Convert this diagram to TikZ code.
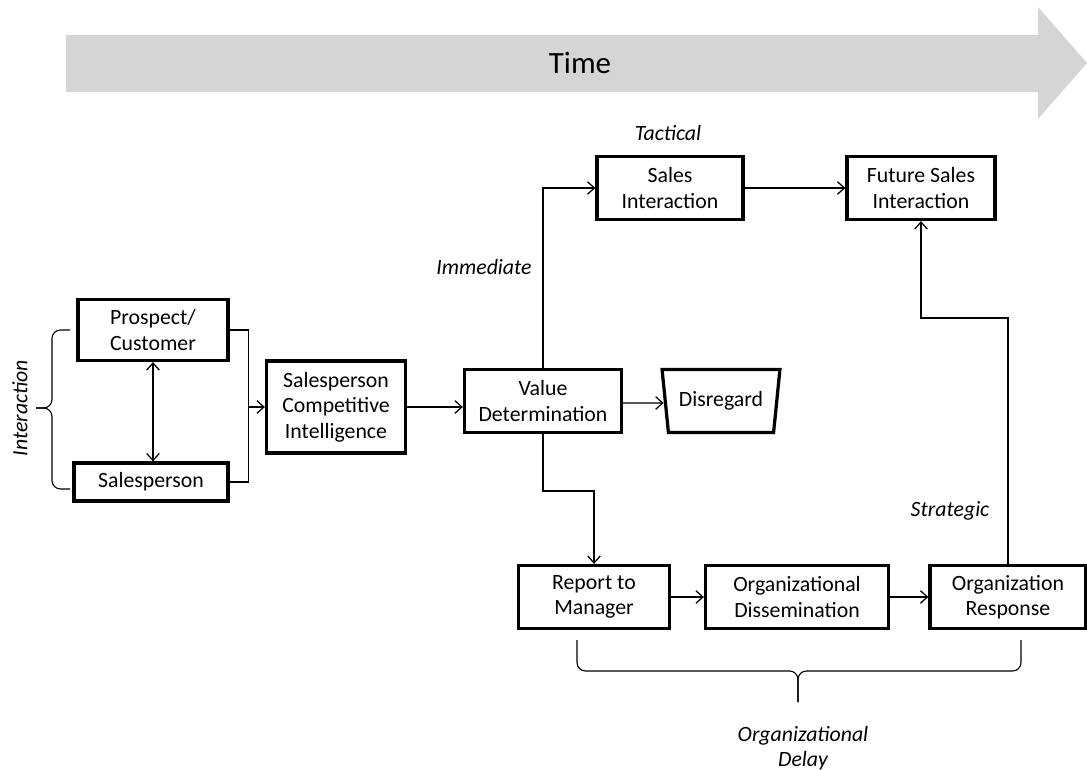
\documentclass[tikz,border=0pt]{standalone}
\usepackage{fontspec}
\setmainfont{Carlito}
\usepackage{xcolor}
\definecolor{timegrey}{HTML}{D4D5D7}
\usetikzlibrary{shapes.geometric, arrows.meta, positioning, calc}

\begin{document}
\begin{tikzpicture}[
        x=0.025cm, y=-0.025cm,
        font=\fontsize{15.5}{18}\selectfont,
        block/.style={rectangle, draw=black, line width=2.3pt, fill=white, align=center, minimum height=1.575cm, inner sep=2pt},
        line/.style={draw, line width=0.9pt, -{Straight Barb[length=5pt, width=9pt]}},
        brace/.style={draw, line width=0.8pt, rounded corners=6pt},
        note/.style={font=\fontsize{15.5}{18}\selectfont\itshape, align=center}
    ]
        \useasboundingbox (0,0) rectangle (1087,770);

        % Time arrow
        \fill[timegrey] (66,35) -- (1038,35) -- (1038,7) -- (1087,63) -- (1038,119) -- (1038,92) -- (66,92) -- cycle;
        \node[font=\fontsize{22}{26}\selectfont] (time) at (580,63) {Time};

        % Interaction pair
        \node [block, minimum width=3.75cm, minimum height=1.525cm] (prospect) at (153,330) {Prospect/\\Customer};
        \node [block, minimum width=3.85cm, minimum height=0.95cm] (salesp) at (151,482) {Salesperson};
        \node [block, minimum width=3.475cm, minimum height=2.3cm] (sci) at (336,407) {Salesperson\\Competitive\\Intelligence};
        \node [block, minimum width=3.925cm] (value) at (543,401) {Value\\Determination};
        \node [trapezium, draw, line width=2.3pt, shape border rotate=180, trapezium angle=75, trapezium stretches=true,
               minimum width=2.95cm, minimum height=1.575cm, inner sep=0pt] (disregard) at (721,401) {Disregard};

        % Immediate / tactical
        \node [block, minimum width=3.65cm] (sales) at (670,188) {Sales\\Interaction};
        \node [block, minimum width=3.7cm] (future) at (921,188) {Future Sales\\Interaction};

        % Organizational path
        \node [block, minimum width=3.775cm] (report) at (594,597) {Report to\\Manager};
        \node [block, minimum width=4.575cm] (orgdiss) at (797,597) {Organizational\\Dissemination};
        \node [block, minimum width=3.9cm] (orgresp) at (1008,597) {Organization\\Response};

        % Labels
        \node [note] (tactical) at (668,133) {Tactical};
        \node [note] (immediate) at (484,267) {Immediate};
        \node [note] (strategic) at (950,511) {Strategic};
        \node [note, rotate=90] (interaction) at (20,408) {Interaction};
        \node [note] (delay) at (803,748) {Organizational\\Delay};

        % Connections
        \draw [line, {Straight Barb[length=5pt, width=9pt]}-{Straight Barb[length=5pt, width=9pt]}] (prospect.south) -- (prospect.south |- salesp.north);
        \draw [line width=0.9pt] (prospect.east) -- ++(19,0) coordinate (jn) |- (salesp.east);
        \draw [line] (jn |- sci.west) -- (sci.west);
        \draw [line] (sci.east) -- (sci.east -| value.west);
        \draw [line] ($(value.east)+(0,2)$) -- ($(disregard.west)+(0,2)$);
        \draw [line] (value.north) |- (sales.west);
        \draw [line] (sales.east) -- (future.west);
        \draw [line] (value.south) -- ++(0,57) -| (report.north);
        \draw [line] (report.east) -- (orgdiss.west);
        \draw [line] (orgdiss.east) -- (orgresp.west);
        \draw [line] (orgresp.north) -- ++(0,-246) -| (future.south);

        % Braces
        \draw [brace] (70,330) -- (52,330) -- (52,408) -- (36,408);
        \draw [brace] (70,489) -- (52,489) -- (52,408) -- (36,408);
        \draw [brace] (577,640) -- (577,671) -- (798,671) -- (798,702);
        \draw [brace] (1021,640) -- (1021,671) -- (798,671) -- (798,702);
    \end{tikzpicture}
\end{document}
